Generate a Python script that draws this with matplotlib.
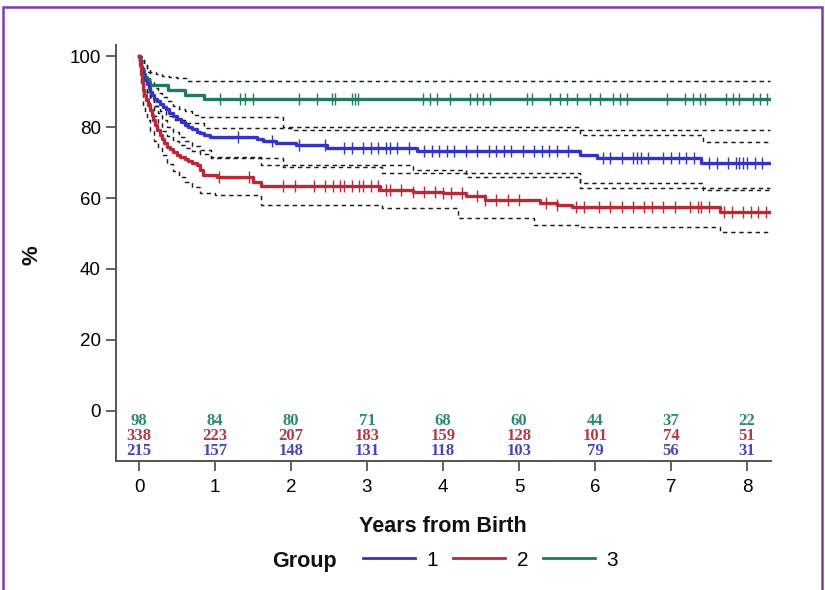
import matplotlib.pyplot as plt
import numpy as np
from matplotlib.patches import Rectangle
from matplotlib.lines import Line2D

plt.rcParams['font.family'] = ['Liberation Sans', 'DejaVu Sans']

T_END = 8.3

# Kaplan-Meier estimates (years, %)
g1_t = [0, 0.01, 0.02, 0.035, 0.05, 0.07, 0.1, 0.125, 0.15, 0.175, 0.2, 0.235, 0.27,
        0.31, 0.35, 0.4, 0.45, 0.5, 0.55, 0.6, 0.65, 0.7, 0.76, 0.8, 0.85, 0.93,
        1.55, 1.63, 1.8, 2.07, 2.47, 3.66, 5.8, 6.03, 7.4]
g1_s = [100, 98.5, 97, 95.5, 94.5, 93.3, 92, 91, 90, 89, 88, 87.2, 86.5,
        85.7, 85, 84, 83, 82.2, 81.4, 80.7, 80, 79.3, 78.6, 78.2, 77.8, 77.2,
        76.6, 76, 75.5, 75, 74, 73.3, 72.1, 71.3, 69.9]

g2_t = [0, 0.01, 0.02, 0.035, 0.05, 0.07, 0.09, 0.115, 0.14, 0.165, 0.19, 0.215, 0.24,
        0.27, 0.3, 0.335, 0.37, 0.41, 0.45, 0.5, 0.54, 0.6, 0.65, 0.7, 0.76, 0.8, 0.84,
        1.02, 1.5, 1.6, 3.17, 3.6, 4.0, 4.3, 4.55, 5.28, 5.5, 5.7, 7.65]
g2_s = [100, 97.5, 95, 92.6, 90.4, 89, 87.5, 86.1, 84.8, 83.4, 82, 80.6, 79.2,
        77.8, 76.5, 75.4, 74.4, 73.7, 73, 72.2, 71.5, 70.9, 70.3, 69.8, 69.3, 68, 66.5,
        65.9, 64.5, 63.3, 62.3, 61.7, 61.4, 60.5, 59.4, 58.6, 58, 57.5, 56.1]

g3_t = [0, 0.015, 0.03, 0.045, 0.06, 0.08, 0.1, 0.125, 0.15, 0.38, 0.6, 0.85]
g3_s = [100, 98.5, 97, 96, 95, 94.2, 93.5, 92.6, 91.8, 90.5, 89, 88]

# confidence limits
g1_up_t = [0, 0.03, 0.06, 0.1, 0.15, 0.2, 0.25, 0.3, 0.37, 0.45, 0.52, 0.6, 0.7, 0.8,
           1.9, 5.8, 7.42]
g1_up_v = [100, 99, 97.5, 95.5, 93, 91, 89.7, 88.5, 87.2, 86, 85.2, 84.5, 83.5, 82.7,
           80, 77.7, 75.9]
g1_lo_t = [0, 0.03, 0.06, 0.1, 0.15, 0.2, 0.25, 0.3, 0.37, 0.45, 0.52, 0.6, 0.7, 0.8,
           0.95, 1.9, 3.2, 5.8, 7.42]
g1_lo_v = [100, 95, 91, 88, 85.5, 83, 81, 79, 77.5, 76, 75, 74, 73.2, 72.5,
           71.3, 68.7, 67, 64.2, 62.3]

g2_up_t = [0, 0.03, 0.06, 0.1, 0.15, 0.2, 0.25, 0.3, 0.37, 0.45, 0.52, 0.6, 0.7, 0.8,
           0.95, 1.6, 3.6, 4.3, 5.8]
g2_up_v = [100, 97, 94, 91, 88.5, 86, 84, 82, 80, 78.5, 77.2, 76, 74.7, 73.5,
           71.5, 69.3, 68, 66, 62.8]
g2_lo_t = [0, 0.02, 0.05, 0.075, 0.1, 0.15, 0.2, 0.25, 0.3, 0.37, 0.45, 0.52, 0.6, 0.7,
           0.8, 1.0, 1.6, 3.2, 4.2, 5.2, 5.8, 7.65]
g2_lo_v = [100, 92, 86, 84, 82, 79, 76, 74, 72, 69.7, 67.5, 66, 64.5, 63,
           61.5, 60.8, 58, 57.2, 54.3, 52.5, 51.9, 50.4]

g3_up_t = [0, 0.03, 0.06, 0.1, 0.14, 0.22, 0.3, 0.4, 0.5, 0.63]
g3_up_v = [100, 99, 97.5, 96.3, 95.5, 95, 94.5, 94.1, 93.8, 93]
g3_lo_t = [0, 0.03, 0.06, 0.1, 0.15, 0.2, 0.27, 0.35, 0.47, 0.6, 0.85, 2.0]
g3_lo_v = [100, 96, 93, 90, 88, 86, 84.5, 83, 82, 81, 79.8, 79.2]

# censored observations
g1_cens = [1.3, 1.75, 2.1, 2.45, 2.7, 2.8, 2.95, 3.05, 3.15, 3.25, 3.3, 3.4, 3.55, 3.75,
           3.85, 3.95, 4.05, 4.15, 4.3, 4.45, 4.6, 4.7, 4.8, 4.9, 5.05, 5.2, 5.3, 5.4,
           5.5, 5.65, 6.1, 6.2, 6.35, 6.5, 6.55, 6.6, 6.7, 6.9, 7.0, 7.1, 7.2, 7.3,
           7.5, 7.6, 7.75, 7.85, 7.9, 7.95, 8.0, 8.1, 8.2]
g2_cens = [1.05, 1.45, 1.9, 2.05, 2.3, 2.45, 2.55, 2.65, 2.7, 2.8, 2.9, 2.95, 3.05, 3.15,
           3.25, 3.3, 3.45, 3.6, 3.75, 3.9, 4.0, 4.1, 4.25, 4.45, 4.55, 4.7, 4.85, 5.0,
           5.35, 5.5, 5.75, 5.85, 6.05, 6.2, 6.35, 6.5, 6.65, 6.75, 6.9, 7.05, 7.25,
           7.35, 7.4, 7.5, 7.7, 7.8, 7.95, 8.05, 8.15, 8.25]
g3_cens = [1.07, 1.33, 1.4, 1.5, 2.1, 2.34, 2.54, 2.58, 2.8, 2.84, 2.88, 3.74, 3.83, 3.92,
           4.09, 4.36, 4.45, 4.53, 4.62, 5.1, 5.17, 5.41, 5.54, 5.63, 5.76, 5.93, 6.07,
           6.24, 6.33, 6.42, 6.95, 7.18, 7.29, 7.38, 7.45, 7.73, 7.82, 7.9, 8.08, 8.17, 8.26]

# number at risk
risk_years = [0, 1, 2, 3, 4, 5, 6, 7, 8]
risk_g1 = [215, 157, 148, 131, 118, 103, 79, 56, 31]
risk_g2 = [338, 223, 207, 183, 159, 128, 101, 74, 51]
risk_g3 = [98, 84, 80, 71, 68, 60, 44, 37, 22]

blue = '#3434c4'
red = '#b82a38'
green = '#1f7a60'
blue_txt = '#4646b4'
red_txt = '#b03a48'
green_txt = '#2e8a70'


def step_line(ax, t, v, **kw):
    ax.step(list(t) + [T_END], list(v) + [v[-1]], where='post', **kw)


def censor(ax, t, s, c, color):
    idx = np.searchsorted(t, c, side='right') - 1
    ax.plot(c, np.array(s)[idx], linestyle='none', marker='|', markersize=9,
            markeredgewidth=1.0, color=color)


fig = plt.figure(figsize=(8.25, 5.9), dpi=100)
ax = fig.add_axes([0.1406, 0.2186, 0.7939, 0.7051])

dash = dict(color='#1a1a1a', linewidth=1.05, linestyle=(0, (3.0, 2.6)))
for t, v in [(g3_up_t, g3_up_v), (g3_lo_t, g3_lo_v), (g1_up_t, g1_up_v),
             (g1_lo_t, g1_lo_v), (g2_up_t, g2_up_v), (g2_lo_t, g2_lo_v)]:
    step_line(ax, t, v, **dash)

step_line(ax, g3_t, g3_s, color=green, linewidth=2.4)
step_line(ax, g1_t, g1_s, color=blue, linewidth=2.4)
step_line(ax, g2_t, g2_s, color=red, linewidth=2.4)
censor(ax, g3_t, g3_s, g3_cens, green)
censor(ax, g1_t, g1_s, g1_cens, blue)
censor(ax, g2_t, g2_s, g2_cens, red)

for yr, a, b, c in zip(risk_years, risk_g3, risk_g2, risk_g1):
    ax.text(yr, -2.8, str(a), color=green_txt, ha='center', va='center',
            fontsize=12, family='Liberation Serif', fontweight='bold')
    ax.text(yr, -7.0, str(b), color=red_txt, ha='center', va='center',
            fontsize=12, family='Liberation Serif', fontweight='bold')
    ax.text(yr, -11.3, str(c), color=blue_txt, ha='center', va='center',
            fontsize=12, family='Liberation Serif', fontweight='bold')

ax.set_xlim(-0.303, 8.316)
ax.set_ylim(-14.1, 103.1)
ax.set_xticks(risk_years)
ax.set_yticks([0, 20, 40, 60, 80, 100])
for side in ['top', 'right']:
    ax.spines[side].set_visible(False)
for side in ['left', 'bottom']:
    ax.spines[side].set_color('#555555')
    ax.spines[side].set_linewidth(1.4)
ax.tick_params(axis='both', direction='out', length=7, width=1.3, color='#555555',
               labelsize=13.5, labelcolor='#000000')
ax.tick_params(axis='x', pad=6)
ax.tick_params(axis='y', pad=4)

fig.text(32 / 825, 1 - 255 / 590, '%', rotation=90, ha='center', va='center',
         fontsize=16, fontweight='bold', color='#111111')
fig.text(443 / 825, 1 - 526 / 590, 'Years from Birth', ha='center', va='center',
         fontsize=15.5, fontweight='bold', color='#111111')
fig.text(304 / 825, 1 - 562 / 590, 'Group', ha='center', va='center',
         fontsize=15.5, fontweight='bold', color='#111111')

handles = [Line2D([], [], color=blue, linewidth=2.0),
           Line2D([], [], color=red, linewidth=2.0),
           Line2D([], [], color=green, linewidth=2.0)]
fig.legend(handles, ['1', '2', '3'], loc='center left',
           bbox_to_anchor=(363 / 825, 1 - 560 / 590), ncol=3, frameon=False,
           fontsize=15, handlelength=2.5, handletextpad=0.55, columnspacing=0.72,
           borderpad=0, borderaxespad=0)

fig.add_artist(Rectangle((3 / 825, -0.05), 819 / 825, 1.05 - 7 / 590,
                         transform=fig.transFigure, fill=False,
                         edgecolor='#7b3cb6', linewidth=1.8))

fig.savefig('out.png', dpi=100)
